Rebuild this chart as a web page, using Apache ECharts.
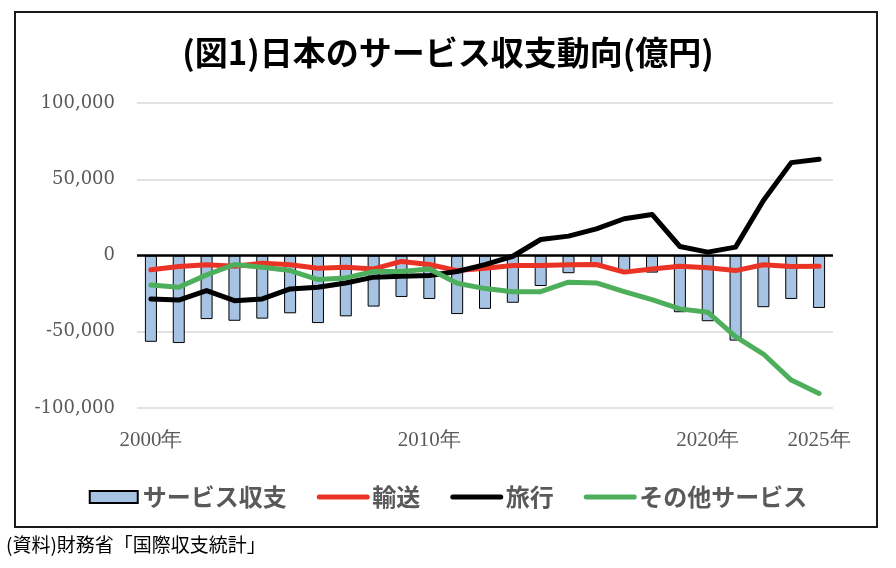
<!DOCTYPE html>
<html>
<head>
<meta charset="utf-8">
<script src="https://cdn.jsdelivr.net/npm/echarts@6.0.0/dist/echarts.min.js"></script>
<style>
  html, body { margin: 0; padding: 0; background: #fff; }
  #chart { width: 896px; height: 568px; }
</style>
</head>
<body>
<div id="chart"></div>
<script>
// 25 categories, the picture only labels four of them
const categories = ["2000", "2001", "2002", "2003", "2004", "2005", "2006", "2007", "2008", "2009",
  "2010", "2011", "2012", "2013", "2014", "2015", "2016", "2017", "2018", "2019",
  "2020", "2021", "2022", "2023", "2024"];
const tickIndex = [0, 10, 20, 24];
const tickLabels = ["2000年", "2010年", "2020年", "2025年"];

const yTicks = [-100000, -50000, 0, 50000, 100000];

// 億円
const services = [-56600, -57400, -41700, -42800, -41400, -37900, -44300, -39900, -33500, -27200,
  -28500, -38400, -35000, -31000, -20000, -11600, -6500, -10500, -11200, -37200,
  -43100, -55800, -33900, -28500, -34400];
const transport = [-9400, -7200, -6100, -7000, -5000, -6100, -8300, -7700, -8800, -3900,
  -5900, -9900, -8300, -6600, -6600, -6100, -5900, -10900, -8800, -7000,
  -8100, -9900, -6100, -7200, -7000];
const travel = [-28500, -29200, -23000, -29600, -28500, -21900, -20800, -18000, -14200, -13600,
  -13100, -10500, -6000, -500, 10500, 12700, 17500, 24100, 26900, 5900,
  2200, 5500, 36100, 60900, 63100];
const other = [-19300, -20800, -12700, -5900, -7700, -9900, -15800, -14700, -10500, -10500,
  -8800, -18200, -21700, -23700, -23700, -17500, -18000, -23700, -28900, -35000,
  -37200, -53200, -64600, -81700, -90500];

const jp = "'Noto Sans CJK JP', 'Noto Sans', sans-serif";

function lineSeries(name, data, color) {
  return {
    name: name,
    type: "line",
    data: data,
    symbol: "none",
    lineStyle: { color: color, width: 5, cap: "round", join: "round" },
    itemStyle: { color: color }
  };
}

// legend line icons: hide the marker dot, keep the stroke
function lineLegend(name) {
  return { name: name, itemStyle: { opacity: 0 }, lineStyle: { width: 5, cap: "round" } };
}

const chart = echarts.init(document.getElementById("chart"));
chart.setOption({
  animation: false,
  backgroundColor: "#fff",
  title: {
    text: "(図1)日本のサービス収支動向(億円)",
    left: "center",
    top: 31,
    textStyle: { fontFamily: jp, fontSize: 33, fontWeight: "bold", color: "#000" }
  },
  legend: {
    left: "center",
    top: 480,
    itemWidth: 48,
    itemHeight: 12,
    itemGap: 30,
    textStyle: { fontFamily: jp, fontSize: 24, fontWeight: "bold", color: "#595959" },
    data: [
      { name: "サービス収支", icon: "rect" },
      lineLegend("輸送"),
      lineLegend("旅行"),
      lineLegend("その他サービス")
    ]
  },
  grid: { left: 137, right: 63, top: 103, bottom: 160 },
  xAxis: {
    type: "category",
    data: categories,
    axisLine: { show: false, onZero: false },
    axisTick: { show: false },
    axisLabel: {
      interval: 0,
      margin: 22,
      fontFamily: "'Liberation Serif', serif",
      fontSize: 21,
      color: "#595959",
      formatter: function (v, i) {
        const k = tickIndex.indexOf(i);
        return k >= 0 ? tickLabels[k] : "";
      }
    }
  },
  yAxis: {
    type: "value",
    min: yTicks[0],
    max: yTicks[yTicks.length - 1],
    interval: 50000,
    axisLine: { show: false },
    axisTick: { show: false },
    splitLine: { lineStyle: { color: "#d9d9d9", width: 1.5 } },
    axisLabel: {
      margin: 22,
      fontFamily: "'DejaVu Serif', serif",
      fontSize: 18,
      color: "#595959",
      formatter: function (v) {
        return v.toLocaleString("en-US");
      }
    }
  },
  series: [
    {
      name: "サービス収支",
      type: "bar",
      data: services,
      barWidth: 12,
      itemStyle: { color: "#a6c3e4", borderColor: "#000", borderWidth: 1 },
      markLine: {
        silent: true,
        symbol: "none",
        label: { show: false },
        lineStyle: { color: "#000", width: 2.5, type: "solid" },
        data: [{ yAxis: 0 }]
      }
    },
    lineSeries("輸送", transport, "#ea3324"),
    lineSeries("旅行", travel, "#000000"),
    lineSeries("その他サービス", other, "#4daf5b")
  ],
  graphic: [
    {
      type: "rect",
      shape: { x: 15, y: 12, width: 862, height: 515 },
      style: { fill: "none", stroke: "#1a1a1a", lineWidth: 2 },
      silent: true
    },
    {
      type: "text",
      left: 6,
      top: 535,
      style: { text: "(資料)財務省「国際収支統計」", fontFamily: jp, fontSize: 19, fill: "#000" }
    }
  ]
});
</script>
</body>
</html>
